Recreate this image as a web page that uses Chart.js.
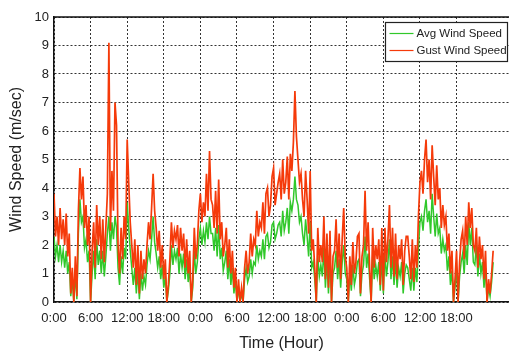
<!DOCTYPE html>
<html>
<head>
<meta charset="utf-8">
<script src="https://cdn.jsdelivr.net/npm/chart.js@4/dist/chart.umd.min.js"></script>
<style>
  html, body { margin: 0; padding: 0; background: #fff; overflow: hidden; }
  #wrap { width: 509px; height: 354px; }
</style>
</head>
<body>
<div id="wrap"><canvas id="chart" width="509" height="354"></canvas></div>
<script>
// readings every quarter hour, starting at 0:00 of day 1 (one row per hour)
const stepHours = 0.25;

const avgSpeed = [
  2.3, 1.6, 2.0, 1.4,  2.0, 1.4, 1.8, 1.2,  1.8, 1.0, 1.4, 0.2,  0.8, 0.0, 1.0, 0.1,
  2.4, 3.6, 2.8, 3.0,  1.9, 2.2, 1.4, 1.8,  0.0, 1.0, 1.8, 0.8,  2.2, 1.3, 1.8, 1.0,
  1.8, 0.9, 1.6, 2.4,  3.0, 1.8, 2.8, 2.2,  3.0, 2.6, 1.2, 0.6,  1.6, 1.0, 1.9, 1.5,
  3.5, 2.6, 1.8, 1.2,  0.6, 1.2, 0.3, 1.1,  0.1, 1.0, 0.4, 0.9,  0.6, 1.3, 1.8, 1.5,
  2.2, 3.0, 2.1, 1.7,  1.2, 1.6, 0.8, 1.3,  0.5, 0.9, 0.0, 0.4,  1.0, 2.0, 1.3, 1.8,
  1.5, 1.9, 1.0, 1.7,  1.2, 1.7, 0.8, 1.5,  0.7, 1.2, 0.0, 0.5,  1.8, 1.0, 1.4, 2.2,
  2.6, 2.0, 2.5, 2.1,  2.8, 2.2, 3.0, 2.4,  2.4, 1.8, 2.6, 1.6,  2.7, 1.5, 1.9, 1.1,
  1.4, 1.8, 0.8, 1.5,  0.6, 1.2, 0.3, 0.8,  0.0, 0.5, 0.0, 0.3,  0.0, 0.8, 1.2, 0.7,
  0.9, 1.5, 1.0, 1.4,  1.3, 2.0, 1.5, 1.8,  1.6, 2.2, 1.5, 2.3,  2.4, 1.9, 2.1, 2.7,
  2.8, 2.2, 2.4, 2.7,  2.8, 2.3, 3.2, 2.5,  2.8, 3.3, 2.4, 3.5,  3.2, 3.6, 4.4, 3.6,
  3.4, 2.8, 3.0, 2.4,  2.0, 2.9, 2.3, 1.6,  2.8, 1.2, 1.4, 0.8,  0.0, 1.6, 0.9, 1.3,
  0.9, 1.9, 0.5, 1.5,  0.3, 1.6, 0.0, 1.0,  1.2, 1.8, 0.8, 1.5,  0.5, 1.4, 2.0, 1.0,
  0.8, 0.0, 1.0, 0.4,  1.3, 0.6, 0.9, 1.4,  1.5, 0.2, 1.0, 1.3,  2.3, 1.2, 1.7, 0.8,
  0.0, 1.6, 0.8, 1.3,  0.9, 1.4, 0.4, 1.6,  0.3, 1.7, 0.9, 1.4,  2.2, 0.8, 1.6, 0.6,
  1.5, 0.5, 1.2, 0.9,  1.4, 0.3, 1.0, 1.3,  1.2, 0.8, 0.4, 1.2,  0.4, 1.2, 0.7, 1.9,
  2.8, 3.0, 2.5, 3.2,  3.6, 2.8, 3.2, 2.4,  3.8, 3.0, 2.3, 3.1,  2.4, 2.6, 1.7, 2.2,
  1.8, 2.0, 1.1, 1.6,  0.6, 1.1, 0.0, 0.5,  1.2, 0.0, 0.9, 1.4,  1.7, 1.0, 2.0, 1.3,
  2.8, 2.0, 2.6, 1.4,  1.3, 2.0, 0.9, 1.7,  1.0, 1.4, 0.5, 1.2,  0.0, 0.5, 0.2, 0.7,
  1.4
];

const gustSpeed = [
  3.8, 2.3, 3.0, 2.0,  3.3, 2.2, 2.9, 2.0,  3.1, 1.6, 2.4, 0.3,  1.2, 0.0, 1.6, 0.2,
  3.2, 4.7, 3.6, 4.4,  2.6, 3.4, 2.0, 3.0,  0.0, 1.8, 2.8, 1.2,  3.4, 2.0, 3.0, 1.5,
  2.9, 1.4, 2.6, 3.8,  9.1, 2.5, 4.6, 3.2,  7.0, 6.2, 2.0, 1.0,  2.6, 1.5, 3.0, 2.2,
  5.7, 4.2, 2.8, 2.0,  1.2, 2.2, 0.6, 2.0,  0.3, 1.8, 0.8, 1.5,  1.0, 2.0, 2.8, 2.2,
  3.3, 4.5, 3.2, 2.6,  1.8, 2.5, 1.2, 2.0,  0.8, 1.5, 0.0, 0.6,  1.5, 2.8, 1.9, 2.5,
  2.2, 2.7, 1.6, 2.6,  1.8, 2.4, 1.2, 2.2,  1.0, 1.8, 0.0, 0.8,  2.6, 1.5, 2.0, 3.2,
  3.8, 2.8, 3.5, 3.0,  4.5, 3.2, 5.3, 3.6,  3.4, 2.6, 3.9, 2.4,  4.3, 2.2, 2.8, 1.6,
  2.0, 2.6, 1.2, 2.2,  1.0, 1.8, 0.5, 1.2,  0.0, 0.8, 0.0, 0.5,  0.0, 1.2, 1.8, 1.0,
  1.4, 2.4, 1.6, 2.2,  2.0, 3.2, 2.3, 2.8,  2.6, 3.5, 2.4, 3.8,  4.0, 3.0, 3.4, 4.4,
  4.7, 3.4, 3.8, 4.2,  4.5, 3.6, 5.0, 3.8,  4.2, 5.1, 3.6, 5.2,  4.6, 5.6, 7.4, 5.8,
  5.0, 4.2, 4.5, 3.6,  3.0, 4.6, 3.6, 2.4,  4.6, 1.8, 2.2, 1.2,  0.0, 2.6, 1.4, 2.0,
  1.4, 3.0, 0.8, 2.4,  0.5, 2.5, 0.0, 1.6,  1.8, 2.9, 1.2, 2.4,  0.8, 2.2, 3.3, 1.6,
  1.2, 0.0, 1.6, 0.6,  2.1, 1.0, 1.4, 2.3,  2.4, 0.3, 1.6, 2.0,  3.9, 1.8, 2.8, 1.2,
  0.0, 2.6, 1.2, 2.0,  1.5, 2.2, 0.6, 2.6,  0.4, 2.6, 1.4, 2.2,  3.4, 1.2, 2.6, 0.9,
  2.4, 0.8, 2.0, 1.5,  2.2, 0.6, 1.8, 2.3,  2.3, 1.6, 0.8, 2.2,  0.7, 2.0, 1.2, 3.0,
  4.2, 4.6, 3.8, 5.0,  5.7, 4.2, 5.0, 3.6,  5.5, 4.4, 3.4, 4.8,  3.6, 4.0, 2.6, 3.4,
  2.7, 3.0, 1.8, 2.4,  1.0, 1.8, 0.0, 0.8,  1.8, 0.0, 1.4, 2.2,  2.5, 1.5, 3.0, 2.0,
  3.5, 2.6, 3.3, 2.0,  1.8, 2.6, 1.2, 2.3,  1.5, 2.0, 0.8, 1.8,  0.0, 0.8, 0.3, 1.0,
  1.8
];

const seriesNames = ["Avg Wind Speed", "Gust Wind Speed"];
const seriesColors = ["#30c82a", "#f53a0a"];
const yTicks = [0, 1, 2, 3, 4, 5, 6, 7, 8, 9, 10];
const xTickHours = [0, 6, 12, 18, 24, 30, 36, 42, 48, 54, 60, 66];

const FONT = "'Liberation Sans', Arial, sans-serif";

function toPoints(values) {
  return values.map((v, i) => ({ x: i * stepHours, y: v }));
}

// legend box drawn inside the plot, top right
const boxLegend = {
  id: "boxLegend",
  afterDraw(chart) {
    const ctx = chart.ctx;
    const area = chart.chartArea;
    ctx.save();
    // solid frame line along the top of the plot
    ctx.strokeStyle = "#111";
    ctx.lineWidth = 1.5;
    ctx.beginPath();
    ctx.moveTo(area.left, area.top);
    ctx.lineTo(area.right, area.top);
    ctx.stroke();

    const x0 = 385.5, y0 = 22.5, w = 122, h = 39;
    ctx.fillStyle = "#fff";
    ctx.fillRect(x0, y0, w, h);
    ctx.strokeStyle = "#222";
    ctx.lineWidth = 1.2;
    ctx.strokeRect(x0, y0, w, h);

    ctx.font = "11.5px " + FONT;
    ctx.textBaseline = "middle";
    seriesNames.forEach((name, i) => {
      const y = y0 + 11 + i * 17;
      ctx.strokeStyle = seriesColors[i];
      ctx.lineWidth = 1.2;
      ctx.beginPath();
      ctx.moveTo(x0 + 4, y);
      ctx.lineTo(x0 + 28, y);
      ctx.stroke();
      ctx.fillStyle = "#222";
      ctx.fillText(name, x0 + 31, y);
    });
    ctx.restore();
  }
};

new Chart(document.getElementById("chart"), {
  type: "line",
  data: {
    datasets: [
      {
        label: seriesNames[0],
        data: toPoints(avgSpeed),
        borderColor: seriesColors[0],
        backgroundColor: seriesColors[0],
        borderWidth: 1.5,
        pointRadius: 0,
        tension: 0,
        order: 2
      },
      {
        label: seriesNames[1],
        data: toPoints(gustSpeed),
        borderColor: seriesColors[1],
        backgroundColor: seriesColors[1],
        borderWidth: 1.7,
        pointRadius: 0,
        tension: 0,
        order: 1
      }
    ]
  },
  options: {
    responsive: false,
    animation: false,
    devicePixelRatio: 1,
    layout: { padding: { top: 17, right: 0, left: 0, bottom: 0 } },
    plugins: {
      legend: { display: false },
      tooltip: { enabled: false }
    },
    scales: {
      x: {
        type: "linear",
        min: 0,
        max: 74.6,
        afterBuildTicks: (scale) => {
          scale.ticks = xTickHours.map((v) => ({ value: v }));
        },
        afterFit: (scale) => { scale.height = 52; },
        grid: {
          color: "#333",
          lineWidth: 1,
          drawTicks: false
        },
        border: { display: true, color: "#111", width: 1.5, dash: [2, 2] },
        ticks: {
          padding: 9,
          color: "#222",
          font: { family: FONT, size: 13 },
          maxRotation: 0,
          autoSkip: false,
          callback: (v) => (v % 24) + ":00"
        },
        title: {
          display: true,
          text: "Time (Hour)",
          color: "#222",
          font: { family: FONT, size: 16 },
          padding: { top: 0, bottom: 1 }
        }
      },
      y: {
        min: 0,
        max: 10,
        afterBuildTicks: (scale) => {
          scale.ticks = yTicks.map((v) => ({ value: v }));
        },
        afterFit: (scale) => { scale.width = 54; },
        grid: {
          color: "#333",
          lineWidth: 1,
          drawTicks: false
        },
        border: { display: true, color: "#111", width: 1.5, dash: [2, 2] },
        ticks: {
          padding: 5,
          color: "#222",
          font: { family: FONT, size: 13 }
        },
        title: {
          display: true,
          text: "Wind Speed (m/sec)",
          color: "#222",
          font: { family: FONT, size: 16 },
          padding: { top: 7, bottom: 0 }
        }
      }
    }
  },
  plugins: [boxLegend]
});
</script>
</body>
</html>
